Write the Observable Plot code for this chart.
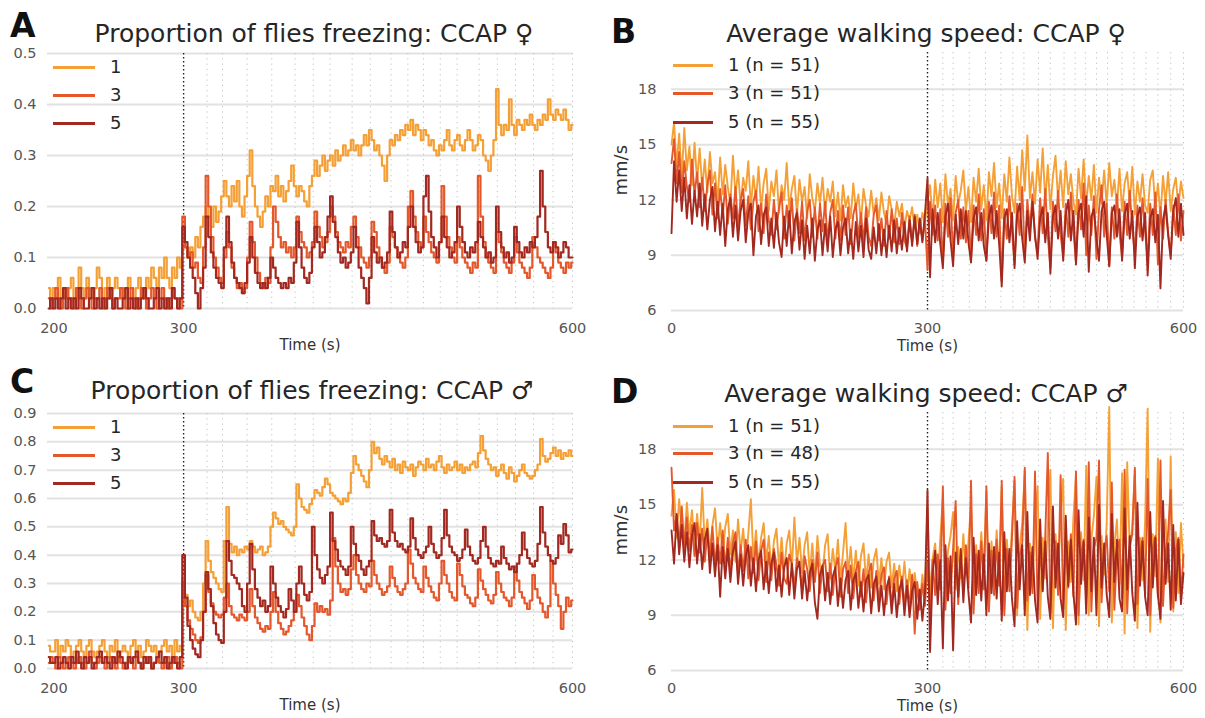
<!DOCTYPE html>
<html><head><meta charset="utf-8">
<script src="https://cdn.jsdelivr.net/npm/d3@7"></script>
<script src="https://cdn.jsdelivr.net/npm/@observablehq/plot@0.6"></script>
<style>
body{margin:0;background:#fff;}
#fig{position:relative;width:1205px;height:718px;overflow:hidden;font-family:"DejaVu Sans",sans-serif;background:#fff;}
.letter{position:absolute;font-weight:bold;font-size:33px;line-height:1;color:#111;}
.title{position:absolute;font-size:25px;line-height:1;color:#262626;white-space:nowrap;transform:translateX(-50%);}
.lg{position:absolute;height:20px;display:flex;align-items:center;white-space:nowrap;}
.lg .sw{display:inline-block;height:3px;}
.lg .lt{font-size:18px;line-height:20px;color:#262626;}
</style>
</head><body><div id="fig"></div>
<script>
// ---------- DATA ----------
const seriesNames = ["1", "3", "5"];
const seriesColors = ["#f5a036", "#e4582b", "#a3281f"];
const stimTimes = [318,330,349,368,386,400,413,430,444,460,473,485,498,511,528,542,556,570,585,600];
const onsetTime = 300;

const freezeTicksF = [0, 0.1, 0.2, 0.3, 0.4, 0.5];
const freezeTicksM = [0, 0.1, 0.2, 0.3, 0.4, 0.5, 0.6, 0.7, 0.8, 0.9];
const speedTicks = [6, 9, 12, 15, 18];
const freezeXTicks = [200, 300, 600];
const speedXTicks = [0, 300, 600];
const legendFreeze = ["1", "3", "5"];
const legendSpeedF = ["1 (n = 51)", "3 (n = 51)", "5 (n = 55)"];
const legendSpeedM = ["1 (n = 51)", "3 (n = 48)", "5 (n = 55)"];

// freezing proportion, time 196..600 s every 2 s
const freezeF1 = [
0.04,0.02,
0.04,0.02,0.06,0.02,0.04,0.02,0.04,0.06,0.02,0.04,
0.08,0.04,0.02,0.06,0.04,0.02,0.04,0.08,0.06,0.02,
0.04,0.06,0.02,0.04,0.06,0.04,0.02,0.04,0.02,0.06,
0.04,0.02,0.04,0.06,0.04,0.02,0.06,0.04,0.08,0.06,
0.04,0.08,0.06,0.1,0.06,0.04,0.08,0.06,0.1,0.08,
0.12,0.12,0.1,0.12,0.1,0.14,0.12,0.16,0.18,0.2,
0.18,0.16,0.2,0.17,0.19,0.22,0.25,0.22,0.2,0.24,
0.21,0.25,0.2,0.18,0.22,0.26,0.31,0.24,0.2,0.18,
0.16,0.19,0.22,0.2,0.24,0.23,0.26,0.22,0.24,0.21,
0.23,0.25,0.28,0.24,0.22,0.24,0.23,0.21,0.2,0.24,
0.26,0.29,0.26,0.28,0.3,0.27,0.29,0.3,0.28,0.31,
0.29,0.3,0.32,0.3,0.31,0.33,0.31,0.32,0.3,0.32,
0.34,0.32,0.35,0.33,0.31,0.32,0.3,0.28,0.25,0.3,
0.33,0.32,0.34,0.33,0.35,0.34,0.36,0.35,0.37,0.34,
0.36,0.35,0.33,0.35,0.34,0.32,0.33,0.31,0.3,0.32,
0.31,0.33,0.35,0.32,0.31,0.33,0.34,0.32,0.31,0.33,
0.35,0.33,0.31,0.32,0.34,0.33,0.3,0.29,0.27,0.3,
0.33,0.43,0.36,0.34,0.36,0.35,0.41,0.36,0.34,0.37,
0.36,0.35,0.37,0.36,0.38,0.36,0.35,0.37,0.36,0.38,
0.37,0.41,0.38,0.37,0.39,0.38,0.37,0.39,0.37,0.35,
0.36];
const freezeF3 = [
0.02,0.0,
0.02,0.04,0.02,0.0,0.02,0.04,0.02,0.02,0.0,0.04,
0.02,0.0,0.02,0.04,0.02,0.0,0.02,0.02,0.04,0.0,
0.02,0.04,0.02,0.0,0.02,0.02,0.04,0.02,0.0,0.02,
0.04,0.02,0.0,0.02,0.04,0.02,0.0,0.02,0.04,0.02,
0.0,0.02,0.04,0.02,0.0,0.02,0.04,0.02,0.02,0.0,
0.18,0.12,0.1,0.11,0.08,0.09,0.06,0.05,0.12,0.26,
0.2,0.14,0.1,0.08,0.06,0.05,0.1,0.15,0.12,0.08,
0.06,0.04,0.05,0.03,0.04,0.1,0.17,0.13,0.1,0.07,
0.05,0.04,0.06,0.05,0.12,0.2,0.17,0.14,0.12,0.13,
0.11,0.12,0.1,0.12,0.18,0.15,0.13,0.12,0.1,0.11,
0.13,0.19,0.16,0.14,0.12,0.13,0.15,0.2,0.18,0.15,
0.13,0.12,0.11,0.13,0.12,0.16,0.18,0.14,0.12,0.1,
0.09,0.08,0.1,0.17,0.15,0.12,0.1,0.08,0.07,0.09,
0.16,0.14,0.12,0.1,0.09,0.08,0.1,0.2,0.23,0.18,
0.15,0.13,0.12,0.18,0.15,0.13,0.11,0.1,0.09,0.13,
0.24,0.18,0.14,0.12,0.1,0.09,0.14,0.12,0.1,0.09,
0.08,0.07,0.09,0.08,0.26,0.18,0.13,0.1,0.09,0.08,
0.07,0.15,0.13,0.11,0.09,0.08,0.07,0.09,0.14,0.11,
0.09,0.08,0.07,0.06,0.08,0.14,0.12,0.1,0.09,0.08,
0.07,0.06,0.08,0.13,0.11,0.09,0.08,0.07,0.09,0.08,
0.09];
const freezeF5 = [
0.0,0.02,
0.0,0.02,0.0,0.02,0.04,0.0,0.02,0.0,0.02,0.0,
0.04,0.02,0.0,0.0,0.02,0.04,0.0,0.02,0.0,0.02,
0.0,0.02,0.04,0.0,0.02,0.0,0.0,0.02,0.04,0.0,
0.02,0.0,0.02,0.0,0.02,0.04,0.02,0.0,0.0,0.02,
0.04,0.0,0.02,0.0,0.02,0.0,0.04,0.02,0.0,0.02,
0.16,0.13,0.1,0.08,0.06,0.03,0.0,0.04,0.08,0.18,
0.14,0.11,0.08,0.06,0.05,0.04,0.12,0.18,0.13,0.09,
0.06,0.05,0.04,0.03,0.05,0.09,0.14,0.1,0.07,0.05,
0.04,0.05,0.04,0.06,0.1,0.08,0.06,0.05,0.04,0.05,
0.04,0.06,0.05,0.09,0.17,0.12,0.08,0.06,0.05,0.07,
0.12,0.16,0.13,0.1,0.11,0.14,0.18,0.22,0.17,0.14,
0.11,0.09,0.1,0.08,0.09,0.11,0.16,0.12,0.08,0.06,
0.04,0.01,0.06,0.14,0.11,0.09,0.1,0.08,0.09,0.11,
0.19,0.15,0.12,0.1,0.11,0.13,0.12,0.16,0.2,0.16,
0.13,0.11,0.12,0.22,0.26,0.19,0.14,0.12,0.1,0.13,
0.18,0.14,0.12,0.1,0.11,0.13,0.2,0.16,0.13,0.11,
0.1,0.12,0.11,0.13,0.17,0.14,0.12,0.1,0.11,0.09,
0.1,0.2,0.15,0.12,0.1,0.11,0.09,0.1,0.16,0.13,
0.11,0.1,0.12,0.11,0.13,0.12,0.14,0.18,0.27,0.2,
0.15,0.12,0.11,0.13,0.12,0.1,0.11,0.13,0.12,0.1,
0.1];
const freezeM1 = [
0.08,0.06,
0.06,0.1,0.04,0.08,0.06,0.1,0.08,0.04,0.06,0.08,
0.1,0.06,0.04,0.08,0.1,0.06,0.04,0.06,0.08,0.1,
0.06,0.04,0.08,0.06,0.1,0.04,0.06,0.08,0.06,0.04,
0.08,0.1,0.06,0.08,0.04,0.06,0.1,0.08,0.06,0.08,
0.04,0.06,0.08,0.1,0.06,0.08,0.04,0.1,0.06,0.08,
0.32,0.26,0.22,0.24,0.2,0.18,0.17,0.2,0.3,0.45,
0.38,0.34,0.32,0.3,0.28,0.27,0.45,0.57,0.44,0.41,
0.43,0.4,0.42,0.41,0.43,0.42,0.45,0.43,0.41,0.42,
0.43,0.4,0.41,0.43,0.5,0.55,0.53,0.51,0.52,0.5,
0.49,0.48,0.47,0.5,0.65,0.6,0.57,0.56,0.55,0.58,
0.6,0.63,0.62,0.61,0.64,0.67,0.65,0.62,0.61,0.6,
0.59,0.58,0.6,0.59,0.62,0.69,0.75,0.72,0.7,0.68,
0.66,0.64,0.7,0.8,0.76,0.78,0.74,0.72,0.75,0.73,
0.71,0.74,0.7,0.72,0.69,0.73,0.71,0.7,0.72,0.68,
0.71,0.73,0.72,0.7,0.74,0.71,0.72,0.7,0.73,0.75,
0.71,0.69,0.72,0.7,0.71,0.73,0.7,0.72,0.69,0.71,
0.7,0.72,0.73,0.71,0.76,0.82,0.77,0.74,0.72,0.7,
0.71,0.68,0.7,0.72,0.69,0.67,0.71,0.69,0.66,0.68,
0.7,0.72,0.69,0.68,0.67,0.68,0.7,0.72,0.81,0.75,
0.73,0.74,0.76,0.78,0.75,0.77,0.74,0.76,0.75,0.77,
0.75];
const freezeM3 = [
0.02,0.04,
0.02,0.0,0.04,0.02,0.0,0.02,0.04,0.02,0.0,0.02,
0.04,0.02,0.0,0.02,0.06,0.02,0.0,0.02,0.04,0.02,
0.0,0.02,0.04,0.02,0.0,0.04,0.02,0.0,0.02,0.04,
0.02,0.0,0.04,0.02,0.0,0.02,0.04,0.02,0.0,0.02,
0.04,0.02,0.0,0.02,0.04,0.0,0.02,0.04,0.02,0.0,
0.3,0.22,0.17,0.14,0.12,0.1,0.09,0.11,0.2,0.33,
0.27,0.23,0.2,0.19,0.18,0.19,0.25,0.3,0.22,0.19,
0.18,0.17,0.19,0.18,0.17,0.2,0.28,0.22,0.18,0.16,
0.14,0.13,0.15,0.14,0.2,0.27,0.2,0.16,0.14,0.12,
0.13,0.15,0.17,0.2,0.26,0.22,0.18,0.15,0.12,0.1,
0.15,0.23,0.2,0.22,0.2,0.21,0.19,0.24,0.46,0.36,
0.3,0.27,0.28,0.26,0.28,0.35,0.4,0.33,0.3,0.28,
0.27,0.3,0.29,0.38,0.33,0.3,0.28,0.26,0.27,0.29,
0.36,0.32,0.29,0.27,0.26,0.28,0.3,0.42,0.37,0.32,
0.3,0.28,0.27,0.36,0.32,0.29,0.27,0.25,0.24,0.3,
0.38,0.33,0.3,0.27,0.25,0.24,0.37,0.33,0.29,0.26,
0.25,0.23,0.22,0.25,0.35,0.31,0.28,0.26,0.24,0.23,
0.26,0.34,0.3,0.27,0.25,0.24,0.22,0.25,0.36,0.31,
0.27,0.25,0.23,0.21,0.24,0.33,0.28,0.25,0.23,0.2,
0.18,0.22,0.38,0.3,0.26,0.22,0.14,0.2,0.25,0.22,
0.24];
const freezeM5 = [
0.04,0.02,
0.02,0.04,0.0,0.02,0.04,0.02,0.0,0.04,0.02,0.06,
0.02,0.0,0.04,0.02,0.04,0.0,0.02,0.04,0.06,0.02,
0.04,0.02,0.0,0.04,0.02,0.06,0.04,0.02,0.0,0.04,
0.02,0.04,0.06,0.02,0.0,0.04,0.02,0.04,0.0,0.02,
0.04,0.06,0.02,0.04,0.0,0.02,0.04,0.02,0.0,0.04,
0.4,0.25,0.15,0.1,0.07,0.05,0.04,0.1,0.2,0.34,
0.28,0.22,0.16,0.12,0.1,0.09,0.2,0.45,0.38,0.33,
0.32,0.3,0.28,0.22,0.2,0.3,0.44,0.35,0.28,0.25,
0.22,0.24,0.2,0.22,0.36,0.3,0.25,0.22,0.2,0.18,
0.21,0.28,0.24,0.2,0.3,0.36,0.3,0.26,0.24,0.27,
0.5,0.4,0.35,0.32,0.3,0.33,0.36,0.55,0.45,0.42,
0.38,0.36,0.35,0.33,0.36,0.5,0.44,0.4,0.38,0.35,
0.33,0.36,0.38,0.52,0.47,0.45,0.46,0.44,0.43,0.45,
0.56,0.48,0.45,0.43,0.44,0.42,0.41,0.43,0.53,0.46,
0.42,0.4,0.39,0.41,0.43,0.5,0.44,0.41,0.39,0.4,
0.46,0.56,0.47,0.43,0.41,0.4,0.38,0.39,0.42,0.49,
0.43,0.4,0.38,0.37,0.39,0.45,0.5,0.43,0.39,0.37,
0.36,0.38,0.37,0.43,0.39,0.37,0.35,0.36,0.34,0.37,
0.4,0.48,0.42,0.39,0.37,0.36,0.38,0.44,0.57,0.48,
0.43,0.4,0.38,0.37,0.39,0.47,0.44,0.51,0.47,0.41,
0.42];

// walking speed (mm/s), time 0..600 s every 3 s
const speedF1 = [
15.0,16.2,13.8,15.6,13.2,15.9,13.6,14.9,12.8,15.1,
13.0,14.8,12.6,14.2,12.4,14.6,12.9,13.5,11.9,14.3,
12.3,13.9,12.7,11.8,14.4,12.2,13.6,11.7,13.2,12.5,
14.1,11.6,13.3,12.0,13.8,11.5,12.9,13.7,11.4,13.0,
12.2,13.6,11.3,12.8,12.0,14.0,11.5,12.6,13.3,11.2,
13.1,11.9,12.7,11.0,13.4,12.1,11.4,12.9,11.8,13.2,
11.3,12.6,11.9,13.0,11.1,12.4,10.9,12.8,11.6,12.2,
11.0,12.9,11.5,12.3,10.8,12.6,11.7,11.1,12.5,11.2,
12.1,10.9,12.4,11.3,10.7,12.2,11.5,10.6,11.9,11.1,
11.8,10.5,11.4,10.9,11.6,10.4,11.2,10.2,11.3,10.8,
11.9,12.8,10.9,13.1,11.6,12.9,10.8,13.4,11.7,12.6,
10.9,13.3,11.8,12.5,13.6,11.4,12.7,10.8,13.2,11.9,
13.7,11.5,12.8,10.9,13.5,12.2,14.0,11.6,12.9,11.0,
13.4,11.9,14.3,12.2,11.3,13.8,12.0,14.7,12.5,15.5,
12.1,13.5,11.8,14.2,12.4,14.8,11.9,13.9,11.5,13.3,
14.4,12.0,13.6,11.6,14.1,12.3,13.4,11.9,11.2,13.7,
12.1,14.2,11.7,13.3,12.0,13.9,11.3,13.2,11.8,13.6,
11.7,14.0,12.2,13.1,11.6,13.7,11.4,12.9,13.5,11.8,
13.8,11.2,13.0,11.9,13.4,11.7,11.3,13.1,13.6,11.5,
12.9,11.1,13.3,11.8,13.5,11.4,12.6,13.2,11.6,13.0,
12.1];
const speedF3 = [
14.0,15.3,12.9,14.6,12.4,14.1,12.7,11.9,14.2,12.3,
13.5,11.6,13.2,11.4,12.8,13.6,11.2,12.9,11.0,12.6,
11.1,12.8,10.7,12.3,11.0,12.7,10.5,12.0,12.6,10.6,
12.2,10.4,11.9,12.5,10.3,11.8,10.2,12.3,10.9,10.1,
12.0,10.4,11.6,12.4,9.9,11.7,10.5,12.1,9.8,11.5,
10.2,11.9,9.8,11.4,12.0,10.0,11.6,9.9,11.8,10.3,
11.9,9.7,11.3,12.0,9.9,11.4,9.8,11.7,10.1,11.6,
9.6,11.2,11.8,9.9,11.3,9.7,11.6,10.0,9.5,11.2,
11.7,9.8,11.0,9.5,11.4,9.9,11.5,9.7,11.0,9.6,
11.3,9.8,9.4,11.1,9.7,11.2,9.5,10.9,9.8,11.0,
8.2,11.9,10.1,11.7,9.8,11.5,8.6,11.8,10.0,12.1,
8.9,11.3,12.0,9.9,11.6,9.7,11.4,8.8,11.7,10.1,
12.3,9.8,11.5,8.7,11.9,10.2,12.4,10.0,11.7,7.6,
11.5,9.9,12.2,10.3,8.5,11.8,10.1,12.7,8.9,12.0,
10.4,12.3,9.9,9.2,12.1,10.2,12.6,10.0,8.3,11.9,
10.3,12.5,10.1,8.9,11.8,10.0,12.4,10.3,8.6,12.0,
10.4,12.9,9.0,11.7,10.1,12.2,8.8,11.5,12.8,10.0,
11.8,8.4,11.6,9.9,12.3,10.2,8.9,11.9,10.1,12.5,
10.4,9.1,11.7,10.0,12.1,10.3,8.7,11.8,10.1,12.4,
8.5,11.6,9.9,12.0,10.2,9.0,11.7,10.1,12.3,9.8,
11.4];
const speedF5 = [
10.2,14.1,11.9,13.6,11.4,13.2,11.0,12.8,10.7,12.5,
11.1,12.9,10.6,12.3,10.4,12.0,12.7,10.3,11.9,10.1,
11.8,9.5,11.5,12.1,10.0,11.7,9.8,11.4,12.0,9.7,
11.3,11.8,9.0,11.1,11.7,9.6,11.2,11.6,9.5,11.0,
9.4,11.3,9.7,8.9,11.1,9.5,11.4,9.1,10.8,11.3,
9.3,10.9,8.8,10.6,9.1,11.0,8.7,10.4,10.9,9.0,
10.7,9.2,11.1,8.9,10.4,10.8,9.0,10.5,11.0,9.1,
10.4,8.8,10.8,9.2,10.6,8.9,11.0,9.3,8.8,10.5,
9.1,10.7,9.0,10.4,8.9,10.6,9.2,10.9,9.1,10.5,
9.3,10.8,9.2,10.9,9.5,11.1,9.6,11.0,9.7,11.2,
13.2,7.8,11.5,9.7,11.3,9.6,8.3,11.1,11.8,9.8,
8.4,11.2,9.6,11.5,9.9,11.4,9.7,8.6,11.0,11.6,
9.8,11.3,9.5,8.7,11.1,11.7,9.9,11.4,9.6,7.3,
11.0,11.5,9.7,11.3,8.3,11.2,11.8,9.9,8.6,11.4,
9.8,11.9,10.1,8.8,11.0,11.6,9.7,11.3,8.0,11.1,
11.7,9.9,11.4,8.7,11.2,12.0,9.8,11.4,8.5,11.3,
11.8,10.0,12.2,8.1,11.1,11.5,9.9,8.7,11.4,11.9,
10.1,8.4,11.3,11.7,10.0,11.5,8.7,11.2,11.8,9.9,
11.4,8.3,11.1,11.6,9.8,11.3,7.9,11.0,11.5,9.7,
11.2,7.2,10.9,11.7,10.1,8.8,11.4,12.1,10.0,11.8,
10.1];
const speedM1 = [
14.4,15.8,13.2,15.3,13.6,12.9,15.1,13.4,14.7,12.7,
14.5,12.9,15.9,12.8,14.2,12.4,13.9,14.8,12.6,14.0,
12.2,13.8,14.5,12.3,13.6,11.9,14.2,12.4,13.7,11.8,
13.4,15.3,12.0,13.6,11.7,13.2,14.0,11.9,13.3,11.5,
13.0,13.7,11.6,13.2,11.4,12.9,13.6,11.5,14.3,11.8,
13.2,11.3,12.8,13.5,11.2,12.9,11.0,13.3,11.7,11.2,
12.8,13.4,11.0,12.6,11.4,13.1,10.9,12.4,14.0,11.2,
12.7,10.9,12.5,10.6,12.2,12.9,10.8,12.3,10.5,12.0,
12.6,10.7,12.1,10.4,11.9,12.4,10.5,11.8,10.3,11.7,
10.4,11.9,10.1,11.5,9.9,11.3,10.2,9.6,11.2,10.0,
14.8,9.9,12.1,12.9,10.7,13.2,15.4,10.2,12.5,13.3,
14.6,10.4,12.7,11.0,13.4,11.2,13.0,15.0,9.9,12.8,
11.1,13.5,11.4,15.7,10.2,13.0,10.8,13.6,11.3,15.9,
9.3,13.1,11.0,13.8,16.3,9.0,12.7,14.0,16.8,8.2,
12.9,10.6,14.2,16.0,8.8,13.2,11.0,13.9,16.9,8.3,
13.4,11.1,14.5,16.4,8.2,13.0,10.8,14.3,16.6,8.5,
13.5,10.9,17.1,9.0,13.1,14.4,16.5,8.4,13.3,11.2,
14.0,20.3,8.6,12.8,14.2,10.7,16.7,8.0,17.3,12.6,
13.8,16.8,8.3,13.2,10.9,14.1,20.2,8.1,13.4,11.1,
17.5,8.6,13.0,14.2,10.8,17.6,9.2,13.5,10.2,14.0,
11.6];
const speedM3 = [
17.0,13.6,14.4,12.8,14.9,12.7,14.3,12.5,13.9,12.2,
14.0,12.4,13.7,11.9,13.5,12.1,13.8,11.7,13.2,11.8,
13.6,11.5,13.2,11.3,12.9,13.5,11.2,12.8,11.4,13.1,
11.0,12.7,11.3,13.0,10.9,12.5,13.1,10.8,12.4,10.9,
12.6,11.7,10.6,12.4,11.0,10.7,12.3,11.8,10.5,12.1,
11.6,10.4,12.2,11.5,10.3,12.0,10.8,12.4,10.2,11.7,
12.0,10.3,11.8,10.1,11.6,12.1,10.0,11.5,11.9,10.2,
11.7,9.9,11.4,11.9,10.0,11.5,9.7,11.3,11.8,9.8,
11.4,9.7,11.2,11.6,9.6,11.1,9.5,11.0,11.4,9.6,
11.1,9.5,10.9,9.4,11.2,8.0,10.8,9.3,10.7,9.5,
11.9,9.0,12.0,10.1,12.3,10.4,16.0,9.3,12.1,10.2,
12.6,15.2,9.6,12.2,10.3,12.8,10.5,16.3,9.1,12.3,
10.2,13.0,10.4,16.0,9.2,12.5,10.1,13.1,10.6,16.3,
9.0,12.6,10.3,13.2,16.5,9.4,12.2,12.9,17.0,9.8,
12.4,10.2,16.8,9.5,12.7,10.4,13.3,17.8,9.1,12.1,
13.0,10.1,16.6,9.4,12.8,10.5,13.4,10.0,16.8,9.0,
12.3,13.1,10.0,17.3,9.2,12.6,13.2,17.4,9.7,12.4,
13.3,10.3,16.2,9.3,12.5,13.1,9.9,16.9,9.1,12.7,
13.4,17.0,9.6,12.3,13.2,10.1,16.4,9.0,12.6,13.3,
10.0,17.4,9.5,12.4,13.5,15.8,9.4,12.5,13.2,10.1,
12.3];
const speedM5 = [
13.6,11.8,14.5,12.3,13.9,11.9,13.5,11.6,13.3,14.0,
11.8,13.4,11.5,13.1,13.7,11.3,12.9,11.1,12.8,10.0,
12.7,11.0,12.6,10.8,12.4,13.0,10.7,12.3,10.6,12.2,
12.8,10.6,12.1,10.3,12.0,12.5,10.4,11.9,10.2,11.8,
12.4,10.3,11.7,10.0,11.6,12.1,10.1,11.8,9.9,11.5,
11.9,9.9,11.4,9.8,11.3,11.8,9.7,8.8,11.2,11.7,
9.8,11.3,9.6,11.1,11.6,9.5,11.0,9.4,10.9,11.4,
9.3,10.9,11.3,9.4,10.8,9.2,10.9,11.2,9.1,10.7,
11.1,9.2,10.6,9.0,10.5,11.0,9.1,10.7,8.9,10.4,
10.9,9.0,10.6,8.9,10.3,10.8,8.8,10.4,8.7,10.2,
15.8,7.0,11.3,12.5,9.6,12.0,7.2,12.8,9.8,12.2,
7.1,12.4,10.0,12.6,9.7,12.1,10.2,8.6,13.2,10.1,
12.5,9.8,12.3,9.0,12.9,10.2,12.7,9.9,12.4,8.7,
13.5,10.3,12.6,9.9,8.4,14.1,10.4,12.8,9.0,14.6,
10.1,12.7,9.8,8.6,14.2,10.3,13.0,10.0,8.8,14.9,
10.5,12.9,9.9,8.9,14.4,10.6,13.1,10.2,8.5,14.7,
10.7,13.0,9.1,14.3,10.3,13.2,9.0,15.0,10.5,12.9,
10.1,8.9,14.5,10.8,13.1,9.9,9.2,14.8,10.4,13.3,
10.2,8.7,15.1,10.6,13.0,10.0,9.0,14.6,10.5,13.2,
10.1,8.8,15.2,10.7,12.9,9.3,13.9,9.8,13.1,9.6,
11.3];

// ---------- BUILD ----------
function toRows(arrs, t0, step) {
  const out = [];
  arrs.forEach((arr, k) => arr.forEach((v, i) => out.push({t: t0 + step * i, v, s: seriesNames[k]})));
  return out;
}

const fig = document.getElementById("fig");
const baseStyle = {fontFamily: "DejaVu Sans, sans-serif", fontSize: "14px", color: "#4d4d4d", background: "transparent", overflow: "visible"};

function freezePlot(arrs, yTicks, opts) {
  const data = toRows(arrs, 196, 2);
  return Plot.plot({
    width: 600, height: opts.height,
    marginLeft: 47, marginRight: 28, marginTop: opts.mt, marginBottom: opts.mb,
    x: {domain: [195, 600]},
    y: {domain: [0, yTicks[yTicks.length - 1]]},
    color: {domain: seriesNames, range: seriesColors},
    style: baseStyle,
    marks: [
      Plot.ruleY(yTicks, {stroke: "#e2e2e2", strokeWidth: 2}),
      Plot.ruleX(stimTimes, {stroke: "#c4c4c4", strokeWidth: 1, strokeDasharray: "1.3,4"}),
      Plot.ruleX([onsetTime], {stroke: "#222", strokeWidth: 1.4, strokeDasharray: "1.5,2.5"}),
      Plot.line(data, {x: "t", y: "v", z: "s", stroke: "s", strokeWidth: 2.2, curve: "step"}),
      Plot.axisX({ticks: freezeXTicks, tickSize: 0, tickPadding: 14, label: null, fontSize: 14.5, fill: "#555"}),
      Plot.axisY({ticks: yTicks, tickSize: 0, tickPadding: 11, tickFormat: d3.format(".1f"), label: null, fontSize: 14.5, fill: "#555"}),
      Plot.text(["Time (s)"], {frameAnchor: "bottom", dy: 41, fontSize: 15, fill: "#333"})
    ]
  });
}

function speedPlot(arrs, opts) {
  const data = toRows(arrs, 0, 3);
  return Plot.plot({
    width: 605, height: opts.height,
    marginLeft: 71, marginRight: 22, marginTop: opts.mt, marginBottom: opts.mb,
    x: {domain: [0, 600]},
    y: {domain: [6, 20]},
    color: {domain: seriesNames, range: seriesColors},
    style: baseStyle,
    marks: [
      Plot.ruleY(speedTicks, {stroke: "#e2e2e2", strokeWidth: 2}),
      Plot.ruleX(stimTimes, {stroke: "#c4c4c4", strokeWidth: 1, strokeDasharray: "1.3,4"}),
      Plot.ruleX([onsetTime], {stroke: "#222", strokeWidth: 1.4, strokeDasharray: "1.5,2.5"}),
      Plot.line(data, {x: "t", y: "v", z: "s", stroke: "s", strokeWidth: 1.9}),
      Plot.axisX({ticks: speedXTicks, tickSize: 0, tickPadding: 12, label: null, fontSize: 14.5, fill: "#555"}),
      Plot.axisY({ticks: speedTicks, tickSize: 0, tickPadding: 15, label: null, fontSize: 14.5, fill: "#555"}),
      Plot.text(["Time (s)"], {frameAnchor: "bottom", dy: 40, fontSize: 15, fill: "#333"}),
      Plot.text(["mm/s"], {frameAnchor: "left", dx: -50, dy: 14, rotate: -90, fontSize: 18, fill: "#333"})
    ]
  });
}

function place(el, left, top) {
  el.style.position = "absolute";
  el.style.left = left + "px";
  el.style.top = top + "px";
  fig.appendChild(el);
}

place(freezePlot([freezeF1, freezeF3, freezeF5], freezeTicksF, {height: 315, mt: 8, mb: 52}), 0, 45);
place(speedPlot([speedF1, speedF3, speedF5], {height: 315, mt: 7, mb: 50}), 600, 45);
place(freezePlot([freezeM1, freezeM3, freezeM5], freezeTicksM, {height: 313, mt: 8, mb: 50}), 0, 405);
place(speedPlot([speedM1, speedM3, speedM5], {height: 313, mt: 7, mb: 48}), 600, 405);

function addDiv(cls, text, left, top) {
  const d = document.createElement("div");
  d.className = cls; d.textContent = text;
  d.style.left = left + "px"; d.style.top = top + "px";
  fig.appendChild(d);
}
addDiv("letter", "A", 10, 9);
addDiv("letter", "B", 611, 15);
addDiv("letter", "C", 10, 365);
addDiv("letter", "D", 611, 375);
addDiv("title", "Proportion of flies freezing: CCAP \u2640", 314, 21);
addDiv("title", "Average walking speed: CCAP \u2640", 926, 21);
addDiv("title", "Proportion of flies freezing: CCAP \u2642", 312, 378);
addDiv("title", "Average walking speed: CCAP \u2642", 926, 381);

function legend(labels, left, centers, swW, gap) {
  labels.forEach((lab, i) => {
    const row = document.createElement("div");
    row.className = "lg";
    row.style.left = left + "px";
    row.style.top = (centers[i] - 10) + "px";
    const sw = document.createElement("span");
    sw.className = "sw"; sw.style.width = swW + "px"; sw.style.background = seriesColors[i];
    const lt = document.createElement("span");
    lt.className = "lt"; lt.style.marginLeft = gap + "px"; lt.textContent = lab;
    row.appendChild(sw); row.appendChild(lt);
    fig.appendChild(row);
  });
}
legend(legendFreeze, 53, [67, 95, 123], 42, 15);
legend(legendSpeedF, 673, [65, 93, 122], 40, 15);
legend(legendFreeze, 53, [427, 455, 483], 42, 15);
legend(legendSpeedM, 673, [426, 453, 482], 40, 15);
</script>
</body></html>
